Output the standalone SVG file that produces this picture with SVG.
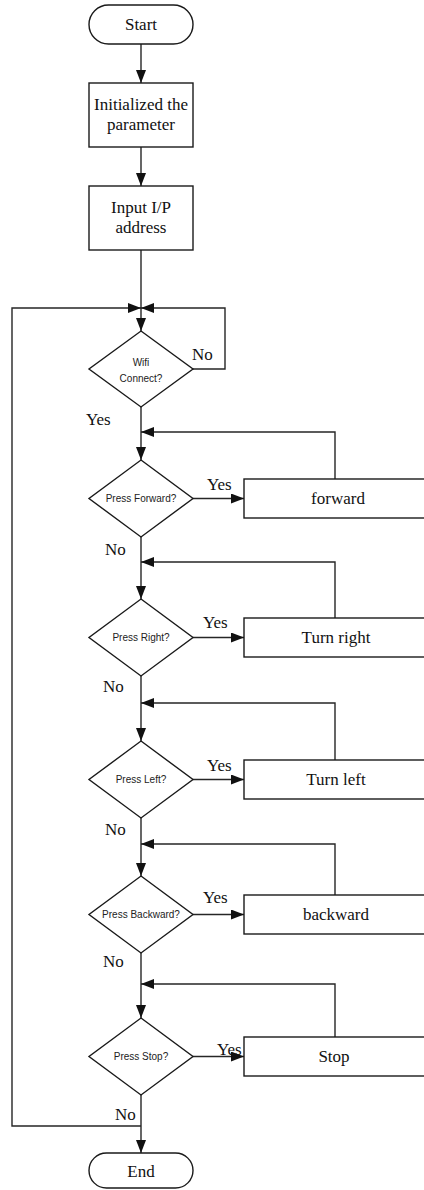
<svg xmlns="http://www.w3.org/2000/svg" width="424" height="1190" viewBox="0 0 424 1190">
<style>
.shape{fill:#fff;stroke:#1a1a1a;stroke-width:1.4}
.line{fill:none;stroke:#262626;stroke-width:1.4}
.lbl{font-family:"Liberation Serif","Times New Roman",serif;font-size:17px;fill:#111}
.c{text-anchor:middle}
.dtxt{font-family:"Liberation Sans",Arial,sans-serif;font-size:10px;fill:#222;text-anchor:middle}
</style>
<defs>
<marker id="arr" viewBox="0 0 13 10" refX="13" refY="5" markerWidth="13" markerHeight="10" markerUnits="userSpaceOnUse" orient="auto">
<path d="M0,0 L13,5 L0,10 Z" fill="#111"/>
</marker>
</defs>
<g id="connectors">
<line class="line" x1="141" y1="44" x2="141" y2="83" marker-end="url(#arr)"/>
<line class="line" x1="141" y1="147" x2="141" y2="186" marker-end="url(#arr)"/>
<line class="line" x1="141" y1="250" x2="141" y2="331" marker-end="url(#arr)"/>
<path class="line" d="M141,1126 H12 V308 H141" marker-end="url(#arr)"/>
<path class="line" d="M193,369 H225 V308 H141" marker-end="url(#arr)"/>
<line class="line" x1="141" y1="407" x2="141" y2="460" marker-end="url(#arr)"/>
<line class="line" x1="193" y1="498.5" x2="244" y2="498.5" marker-end="url(#arr)"/>
<path class="line" d="M335,479 V432 H141" marker-end="url(#arr)"/>
<line class="line" x1="141" y1="537" x2="141" y2="599" marker-end="url(#arr)"/>
<line class="line" x1="193" y1="637.5" x2="244" y2="637.5" marker-end="url(#arr)"/>
<path class="line" d="M335,618 V562 H141" marker-end="url(#arr)"/>
<line class="line" x1="141" y1="676" x2="141" y2="741" marker-end="url(#arr)"/>
<line class="line" x1="193" y1="779.5" x2="244" y2="779.5" marker-end="url(#arr)"/>
<path class="line" d="M335,760 V703 H141" marker-end="url(#arr)"/>
<line class="line" x1="141" y1="818" x2="141" y2="876" marker-end="url(#arr)"/>
<line class="line" x1="193" y1="914.5" x2="244" y2="914.5" marker-end="url(#arr)"/>
<path class="line" d="M335,895 V844 H141" marker-end="url(#arr)"/>
<line class="line" x1="141" y1="953" x2="141" y2="1018" marker-end="url(#arr)"/>
<line class="line" x1="193" y1="1056.5" x2="244" y2="1056.5" marker-end="url(#arr)"/>
<path class="line" d="M335,1037 V984 H141" marker-end="url(#arr)"/>
<line class="line" x1="141" y1="1095" x2="141" y2="1153" marker-end="url(#arr)"/>
<text class="lbl" x="192" y="360">No</text>
<text class="lbl" x="86" y="425">Yes</text>
<text class="lbl" x="207" y="490">Yes</text>
<text class="lbl" x="105" y="555">No</text>
<text class="lbl" x="203" y="628">Yes</text>
<text class="lbl" x="103" y="692">No</text>
<text class="lbl" x="207" y="771">Yes</text>
<text class="lbl" x="105" y="835">No</text>
<text class="lbl" x="203" y="903">Yes</text>
<text class="lbl" x="103" y="967">No</text>
<text class="lbl" x="217" y="1055">Yes</text>
<text class="lbl" x="115" y="1120">No</text>
</g>
<g id="start"><rect class="shape" x="89" y="5" width="104" height="39" rx="19.5"/><text class="lbl c" x="141" y="30">Start</text></g>
<g id="init"><rect class="shape" x="89" y="83" width="104" height="64"/><text class="lbl c" x="141" y="110">Initialized the</text><text class="lbl c" x="141" y="130">parameter</text></g>
<g id="input"><rect class="shape" x="89" y="186" width="104" height="64"/><text class="lbl c" x="141" y="213">Input I/P</text><text class="lbl c" x="141" y="233">address</text></g>
<g id="wifi"><polygon class="shape" points="141,331 193,369 141,407 89,369"/><text class="dtxt" x="141" y="366">Wifi</text><text class="dtxt" x="141" y="382">Connect?</text></g>
<g id="pforward"><polygon class="shape" points="141,460 193,498.5 141,537 89,498.5"/><text class="dtxt" x="141" y="502">Press Forward?</text></g>
<g id="forward"><rect class="shape" x="244" y="479" width="190" height="39"/><text class="lbl c" x="338" y="504">forward</text></g>
<g id="pright"><polygon class="shape" points="141,599 193,637.5 141,676 89,637.5"/><text class="dtxt" x="141" y="641">Press Right?</text></g>
<g id="right"><rect class="shape" x="244" y="618" width="190" height="39"/><text class="lbl c" x="336" y="643">Turn right</text></g>
<g id="pleft"><polygon class="shape" points="141,741 193,779.5 141,818 89,779.5"/><text class="dtxt" x="141" y="783">Press Left?</text></g>
<g id="left"><rect class="shape" x="244" y="760" width="190" height="39"/><text class="lbl c" x="336" y="785">Turn left</text></g>
<g id="pbackward"><polygon class="shape" points="141,876 193,914.5 141,953 89,914.5"/><text class="dtxt" x="141" y="918">Press Backward?</text></g>
<g id="backward"><rect class="shape" x="244" y="895" width="190" height="39"/><text class="lbl c" x="336" y="920">backward</text></g>
<g id="pstop"><polygon class="shape" points="141,1018 193,1056.5 141,1095 89,1056.5"/><text class="dtxt" x="141" y="1060">Press Stop?</text></g>
<g id="stop"><rect class="shape" x="244" y="1037" width="190" height="39"/><text class="lbl c" x="334" y="1062">Stop</text></g>
<g id="end"><rect class="shape" x="89" y="1153" width="104" height="35" rx="17.5"/><text class="lbl c" x="141" y="1177">End</text></g>
</svg>
